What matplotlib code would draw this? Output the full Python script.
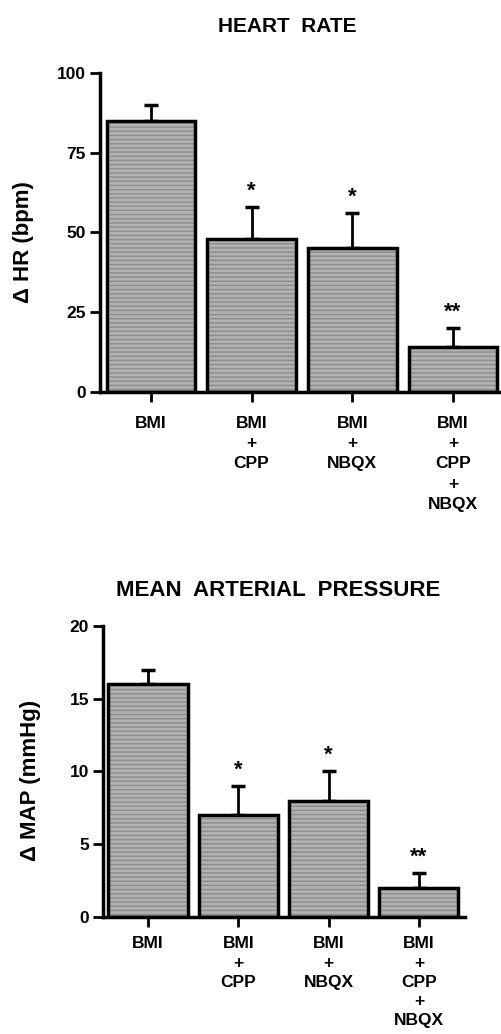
import matplotlib
matplotlib.use("Agg")
import matplotlib.pyplot as plt
import numpy as np

plt.rcParams['font.family'] = ['Liberation Sans', 'DejaVu Sans']
plt.rcParams['font.weight'] = 'bold'
plt.rcParams['hatch.linewidth'] = 1.0

categories = ["BMI", "BMI\n+\nCPP", "BMI\n+\nNBQX", "BMI\n+\nCPP\n+\nNBQX"]

hr_values = [85, 48, 45, 14]
hr_errors = [5, 10, 11, 6]
hr_marks = ["", "*", "*", "**"]

map_values = [16, 7, 8, 2]
map_errors = [1, 2, 2, 1]
map_marks = ["", "*", "*", "**"]

BAR_COLOR = "#b2b2b2"
STRIPE_COLOR = "#8c8c8c"


def draw_panel(ax, values, errors, marks, ylabel, yticks, width, xlim,
               label_x, xpad, lsp):
    x = np.arange(len(values))
    # textured fill, then outline on top
    ax.bar(x, values, width=width, color=BAR_COLOR, edgecolor=STRIPE_COLOR,
           hatch="----", linewidth=0, zorder=2)
    ax.bar(x, values, width=width, fill=False, edgecolor="black",
           linewidth=2.5, zorder=3)
    ax.errorbar(x, values, yerr=[np.zeros(len(errors)), errors], fmt="none",
                ecolor="black", elinewidth=2, capsize=5, capthick=2.5, zorder=1)
    for xi, v, e, m in zip(x, values, errors, marks):
        if m:
            ax.annotate(m, (xi, v + e), xytext=(0, 4), textcoords="offset points",
                        ha="center", va="bottom", fontsize=16, fontweight="bold")

    ax.set_xlim(*xlim)
    ax.set_ylim(0, yticks[-1])
    ax.set_yticks(yticks)
    ax.set_xticks(x)
    ax.set_xticklabels(categories, fontsize=12.5, fontweight="bold", linespacing=lsp)
    ax.tick_params(axis="y", length=7, width=2, labelsize=12.5, pad=3)
    ax.tick_params(axis="x", length=7, width=2, pad=xpad)
    for lab in ax.get_yticklabels():
        lab.set_fontweight("bold")
    ax.spines["top"].set_visible(False)
    ax.spines["right"].set_visible(False)
    ax.spines["left"].set_linewidth(2.5)
    ax.spines["bottom"].set_linewidth(2.5)
    ax.spines["left"].set_zorder(4)
    ax.spines["bottom"].set_zorder(4)
    ax.set_ylabel(ylabel, fontsize=16, fontweight="bold")
    ax.yaxis.set_label_coords(label_x, 0.47)


fig = plt.figure(figsize=(5.01, 10.34), dpi=100)

ax1 = fig.add_axes([0.1996, 0.6209, 0.798, 0.3085])
draw_panel(ax1, hr_values, hr_errors, hr_marks, "Δ HR (bpm)",
           [0, 25, 50, 75, 100], 0.88, (-0.506, 3.466), -0.165, 10, 1.45)
fig.text(0.573, 0.974, "HEART  RATE", ha="center", va="center",
         fontsize=15, fontweight="bold")

ax2 = fig.add_axes([0.2056, 0.1132, 0.7226, 0.2814])
draw_panel(ax2, map_values, map_errors, map_marks, "Δ MAP (mmHg)",
           [0, 5, 10, 15, 20], 0.875, (-0.498, 3.51), -0.171, 7, 1.35)
fig.text(0.555, 0.4294, "MEAN  ARTERIAL  PRESSURE", ha="center", va="center",
         fontsize=16, fontweight="bold")

fig.savefig("out.png", dpi=100)
